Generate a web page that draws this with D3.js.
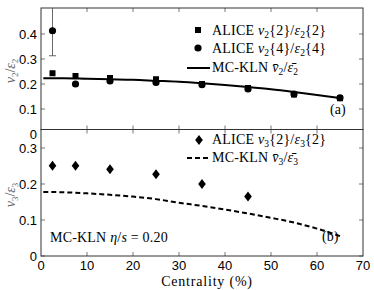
<!DOCTYPE html>
<html>
<head>
<meta charset="utf-8">
<script src="https://cdn.jsdelivr.net/npm/d3@7"></script>
<style>
  body { margin: 0; background: #fff; }
  svg { display: block; }
</style>
</head>
<body>
<svg id="chart" width="374" height="290"></svg>
<script>
// centrality bins
const cent = [2.5, 7.5, 15, 25, 35, 45, 55, 65];
const v2e2 = [0.243, 0.232, 0.224, 0.219, 0.200, 0.184, 0.158, 0.143];
const v2e4 = [0.413, 0.200, 0.212, 0.206, 0.197, 0.180, 0.160, 0.145];
const v2e4Err = [0.10, 0, 0, 0, 0, 0, 0, 0];

const cent3 = [2.5, 7.5, 15, 25, 35, 45];
const v3e3 = [0.251, 0.251, 0.241, 0.227, 0.200, 0.165];
const v3e3Err = [0.012, 0.010, 0.010, 0.010, 0.010, 0.010];

// MC-KLN curves
const klnX = [0.5, 5, 10, 15, 20, 25, 30, 35, 40, 45, 50, 55, 60, 65.5];
const kln2 = [0.223, 0.223, 0.221, 0.219, 0.217, 0.213, 0.209, 0.203, 0.196, 0.188, 0.179, 0.168, 0.156, 0.142];
const kln3 = [0.178, 0.177, 0.174, 0.170, 0.165, 0.158, 0.148, 0.139, 0.129, 0.118, 0.106, 0.093, 0.076, 0.053];

const xTicks = [0, 10, 20, 30, 40, 50, 60, 70];
const yTicksA = [0, 0.1, 0.2, 0.3, 0.4];
const yTicksB = [0, 0.1, 0.2, 0.3];

const svg = d3.select("#chart");
const sans = "'Liberation Sans', Arial, sans-serif";
const serif = "'Liberation Serif', 'DejaVu Serif', serif";

const x = d3.scaleLinear().domain([0, 70]).range([41, 363]);
const yA = d3.scaleLinear().domain([0, 0.5]).range([134, 9]);
const yB = d3.scaleLinear().domain([0, 0.35]).range([256, 130]);

const topA = 8, botA = 129.5, topB = 129.5, botB = 256;

// clip paths
const defs = svg.append("defs");
defs.append("clipPath").attr("id", "clipA").append("rect")
    .attr("x", 41).attr("y", topA).attr("width", 322).attr("height", botA - topA);
defs.append("clipPath").attr("id", "clipB").append("rect")
    .attr("x", 41).attr("y", topB).attr("width", 322).attr("height", botB - topB);

// frames + ticks
function frame(y, top, bot, ticks, xLabels) {
    const g = svg.append("g");
    const tl = 4;
    ticks.forEach(t => {
        const yy = y(t);
        if (yy <= bot) {
            g.append("line").attr("x1", 41).attr("x2", 41 + tl).attr("y1", yy).attr("y2", yy)
                .attr("stroke", "#555").attr("stroke-width", 0.8);
            g.append("line").attr("x1", 363 - tl).attr("x2", 363).attr("y1", yy).attr("y2", yy)
                .attr("stroke", "#555").attr("stroke-width", 0.8);
        }
        g.append("text").attr("x", 37).attr("y", yy + 4.5)
            .attr("text-anchor", "end").attr("font-family", sans).attr("font-size", 13)
            .text(t === 0 ? "0" : d3.format(".1f")(t));
    });
    xTicks.forEach(t => {
        const xx = x(t);
        if (t > 0 && t < 70) {
            g.append("line").attr("x1", xx).attr("x2", xx).attr("y1", top).attr("y2", top + tl)
                .attr("stroke", "#555").attr("stroke-width", 0.8);
            g.append("line").attr("x1", xx).attr("x2", xx).attr("y1", bot - tl).attr("y2", bot)
                .attr("stroke", "#555").attr("stroke-width", 0.8);
        }
        if (xLabels) {
            g.append("text").attr("x", xx).attr("y", 270)
                .attr("text-anchor", "middle").attr("font-family", sans).attr("font-size", 13)
                .text(t);
        }
    });
    g.append("rect").attr("x", 41).attr("y", top).attr("width", 322).attr("height", bot - top)
        .attr("fill", "none").attr("stroke", "#333").attr("stroke-width", 1);
}

frame(yA, topA, botA, yTicksA, false);
frame(yB, topB, botB, yTicksB, true);

// panel (a) data
const pA = svg.append("g").attr("clip-path", "url(#clipA)");
const line2 = d3.line().x((d, i) => x(klnX[i])).y(d => yA(d)).curve(d3.curveMonotoneX);
pA.append("path").datum(kln2).attr("d", line2)
    .attr("fill", "none").attr("stroke", "#000").attr("stroke-width", 2);

cent.forEach((c, i) => {
    if (v2e4Err[i] > 0) {
        const lo = yA(v2e4[i] - v2e4Err[i]), hi = yA(v2e4[i] + v2e4Err[i]);
        pA.append("line").attr("x1", x(c)).attr("x2", x(c)).attr("y1", lo).attr("y2", hi)
            .attr("stroke", "#444").attr("stroke-width", 0.8);
        pA.append("line").attr("x1", x(c) - 3.5).attr("x2", x(c) + 3.5).attr("y1", lo).attr("y2", lo)
            .attr("stroke", "#444").attr("stroke-width", 0.8);
    }
});
pA.selectAll(".sq").data(cent).enter().append("rect")
    .attr("x", d => x(d) - 3).attr("y", (d, i) => yA(v2e2[i]) - 3)
    .attr("width", 6).attr("height", 6).attr("fill", "#000");
pA.selectAll(".ci").data(cent).enter().append("circle")
    .attr("cx", d => x(d)).attr("cy", (d, i) => yA(v2e4[i]))
    .attr("r", 3.6).attr("fill", "#000");

// panel (b) data
const pB = svg.append("g").attr("clip-path", "url(#clipB)");
const line3 = d3.line().x((d, i) => x(klnX[i])).y(d => yB(d)).curve(d3.curveMonotoneX);
pB.append("path").datum(kln3).attr("d", line3)
    .attr("fill", "none").attr("stroke", "#000").attr("stroke-width", 2)
    .attr("stroke-dasharray", "5,3");

const diamond = "M0,-5L3.8,0L0,5L-3.8,0Z";
cent3.forEach((c, i) => {
    pB.append("line").attr("x1", x(c)).attr("x2", x(c))
        .attr("y1", yB(v3e3[i] - v3e3Err[i])).attr("y2", yB(v3e3[i] + v3e3Err[i]))
        .attr("stroke", "#000").attr("stroke-width", 1);
});
pB.selectAll(".dm").data(cent3).enter().append("path")
    .attr("d", diamond)
    .attr("transform", (d, i) => `translate(${x(d)},${yB(v3e3[i])})`)
    .attr("fill", "#000");

// legend helper
function legendText(g, xx, yy, parts) {
    const t = g.append("text").attr("x", xx).attr("y", yy)
        .attr("font-family", serif).attr("font-size", 14).attr("letter-spacing", 0.2)
        .attr("fill", "#000");
    parts.forEach(p => {
        const s = t.append("tspan").text(p.t);
        if (p.i) s.attr("font-style", "italic");
        if (p.sub) s.attr("font-size", 9.5).attr("dy", 3);
        if (p.up) s.attr("dy", -3);
    });
    return t;
}

const lg = svg.append("g");
lg.append("rect").attr("x", 195).attr("y", 27).attr("width", 6).attr("height", 6).attr("fill", "#000");
legendText(lg, 212, 35, [{t: "ALICE "}, {t: "v", i: 1}, {t: "2", sub: 1}, {t: "{2}/", up: 1}, {t: "ε", i: 1}, {t: "2", sub: 1}, {t: "{2}", up: 1}]);
lg.append("circle").attr("cx", 198).attr("cy", 48).attr("r", 3.6).attr("fill", "#000");
legendText(lg, 212, 53, [{t: "ALICE "}, {t: "v", i: 1}, {t: "2", sub: 1}, {t: "{4}/", up: 1}, {t: "ε", i: 1}, {t: "2", sub: 1}, {t: "{4}", up: 1}]);
lg.append("line").attr("x1", 187).attr("x2", 210).attr("y1", 68).attr("y2", 68)
    .attr("stroke", "#000").attr("stroke-width", 2);
legendText(lg, 212, 72, [{t: "MC-KLN "}, {t: "v\u0304", i: 1}, {t: "2", sub: 1}, {t: "/", up: 1}, {t: "ε\u0304", i: 1}, {t: "2", sub: 1}]);
svg.append("text").attr("x", 330).attr("y", 114).attr("font-family", serif).attr("font-size", 14).text("(a)");

lg.append("path").attr("d", diamond)
    .attr("transform", "translate(199,140)").attr("fill", "#000");
legendText(lg, 212, 144, [{t: "ALICE "}, {t: "v", i: 1}, {t: "3", sub: 1}, {t: "{2}/", up: 1}, {t: "ε", i: 1}, {t: "3", sub: 1}, {t: "{2}", up: 1}]);
lg.append("line").attr("x1", 187).attr("x2", 210).attr("y1", 158).attr("y2", 158)
    .attr("stroke", "#000").attr("stroke-width", 2).attr("stroke-dasharray", "5,3");
legendText(lg, 212, 162, [{t: "MC-KLN "}, {t: "v\u0304", i: 1}, {t: "3", sub: 1}, {t: "/", up: 1}, {t: "ε\u0304", i: 1}, {t: "3", sub: 1}]);
svg.append("text").attr("x", 322).attr("y", 241).attr("font-family", serif).attr("font-size", 14).text("(b)");

legendText(svg, 50, 242, [{t: "MC-KLN "}, {t: "η", i: 1}, {t: "/"}, {t: "s", i: 1}, {t: " = 0.20"}]);

// axis titles
function yTitle(cx, cy, n) {
    const t = svg.append("text").attr("transform", `translate(${cx},${cy}) rotate(-90)`)
        .attr("text-anchor", "middle").attr("font-family", serif).attr("font-size", 14)
        .attr("fill", "#666");
    t.append("tspan").attr("font-style", "italic").text("v");
    t.append("tspan").attr("font-size", 9).attr("dy", 3).text(n);
    t.append("tspan").attr("dy", -3).text("/");
    t.append("tspan").attr("font-style", "italic").text("ε");
    t.append("tspan").attr("font-size", 9).attr("dy", 3).text(n);
}
yTitle(15, 71, "2");
yTitle(15, 195, "3");

svg.append("text").attr("x", 207).attr("y", 286).attr("text-anchor", "middle")
    .attr("font-family", serif).attr("font-size", 14).attr("letter-spacing", 0.8)
    .text("Centrality (%)");
</script>
</body>
</html>
